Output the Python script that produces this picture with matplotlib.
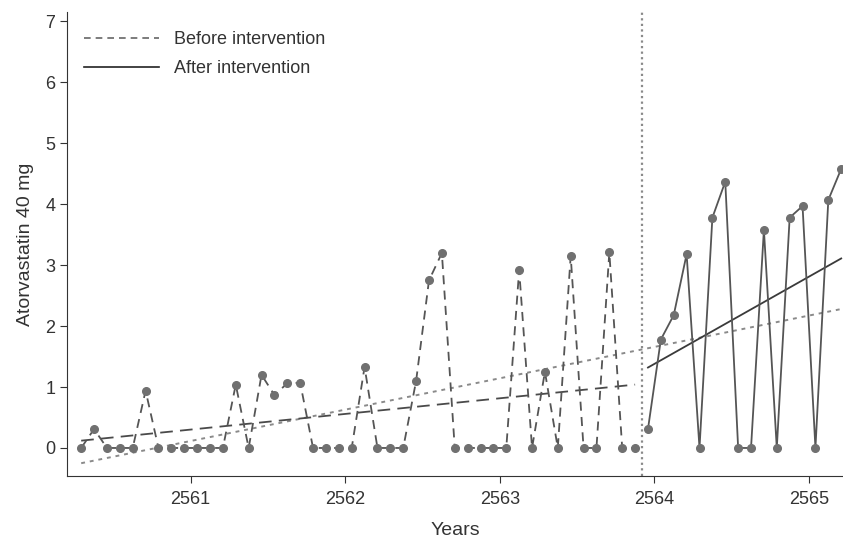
import numpy as np
import matplotlib.pyplot as plt
from matplotlib.lines import Line2D

plt.rcParams['font.family'] = ['Liberation Sans', 'DejaVu Sans']

'''Datos (mensuales, punto medio del mes)'''
start = 2560 + 3.5 / 12            # abril 2560
before = [0, 0.31, 0, 0, 0, 0.94, 0, 0, 0, 0, 0, 0,
          1.04, 0, 1.20, 0.87, 1.06, 1.07, 0, 0, 0, 0, 1.33, 0,
          0, 0, 1.10, 2.75, 3.20, 0, 0, 0, 0, 0, 2.92, 0,
          1.25, 0, 3.15, 0, 0, 3.21, 0, 0]
after = [0.31, 1.78, 2.18, 3.18, 0, 3.78, 4.37, 0, 0, 3.58, 0, 3.78,
         3.97, 0, 4.07, 4.58]
intervention = 2563 + 11 / 12

# extremos de las rectas de tendencia
trend_before = [0.12, 1.04]
trend_after = [1.32, 3.11]
trend_all = [-0.25, 2.28]

x_before = start + np.arange(len(before)) / 12
x_after = x_before[-1] + (1 + np.arange(len(after))) / 12
x_all = np.concatenate([x_before, x_after])

fig = plt.figure(figsize=(8.43, 5.45), dpi=100)
ax = fig.add_axes([0.0795, 0.1266, 0.9205, 0.852])

pt = '#707070'
ax.plot(x_all[[0, -1]], trend_all, ':', color='#8a8a8a', lw=1.4, dashes=(2, 2.5))
ax.plot(x_before[[0, -1]], trend_before, '--', color='#4a4a4a', lw=1.3, dashes=(7, 4))
ax.plot(x_after[[0, -1]], trend_after, '-', color='#3a3a3a', lw=1.3)

ax.plot(x_before, before, '--', color='#555555', lw=1.3, dashes=(5, 3.5),
        marker='o', ms=5.5, mfc=pt, mec=pt)
ax.plot(x_after, after, '-', color='#555555', lw=1.3,
        marker='o', ms=5.5, mfc=pt, mec=pt)

ax.axvline(intervention, color='#8a8a8a', lw=1.6, ls=(0, (1, 1.5)))

ax.set_xlim(2560.2, 2565.22)
ax.set_ylim(-0.46, 7.16)
ax.set_xticks([2561, 2562, 2563, 2564, 2565])
ax.set_yticks(range(0, 8))
for s in ['top', 'right']:
    ax.spines[s].set_visible(False)
ax.spines['left'].set_color('#333333')
ax.spines['bottom'].set_color('#333333')
ax.tick_params(direction='out', length=5, color='#333333', labelsize=13,
               labelcolor='#333333')
ax.tick_params(axis='x', pad=6)
ax.set_xlabel('Years', fontsize=14, color='#333333', labelpad=10)
ax.set_ylabel('Atorvastatin 40 mg', fontsize=14, color='#333333', labelpad=8)

handles = [Line2D([], [], color='#666666', ls='--', lw=1.2, dashes=(4, 3)),
           Line2D([], [], color='#222222', ls='-', lw=1.2)]
ax.legend(handles, ['Before intervention', 'After intervention'],
          loc='upper left', bbox_to_anchor=(0.005, 0.985), frameon=False,
          fontsize=13, handlelength=4.2, handletextpad=0.8, labelspacing=0.65,
          labelcolor='#333333', borderaxespad=0.3)

fig.savefig('out.png', dpi=100)
